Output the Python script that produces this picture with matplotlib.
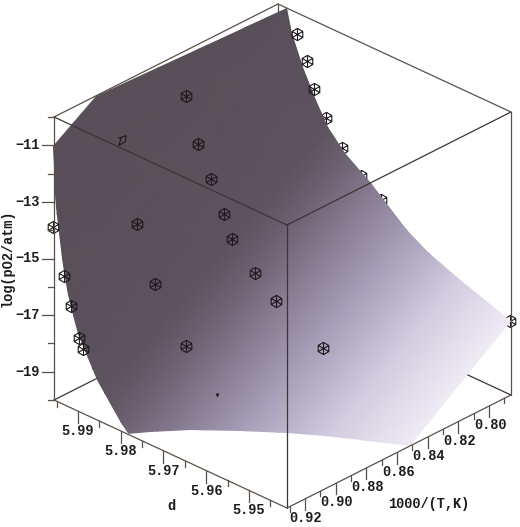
import numpy as np
import matplotlib
matplotlib.use("Agg")
import matplotlib.pyplot as plt
from matplotlib.colors import LinearSegmentedColormap
from matplotlib.patches import Polygon
from matplotlib.path import Path

# ---- axis ranges and ticks
d_range = [5.9411, 5.9956]
t_range = [0.7857, 0.9317]
z_range = [-20, -10]
d_major = [5.95, 5.96, 5.97, 5.98, 5.99]
d_minor = [5.945, 5.955, 5.965, 5.975, 5.985, 5.995]
t_major = [0.80, 0.82, 0.84, 0.86, 0.88, 0.90, 0.92]
t_minor = [0.79, 0.81, 0.83, 0.85, 0.87, 0.89, 0.91, 0.93]
z_major = [-19, -17, -15, -13, -11]
z_minor = [-20, -18, -16, -14, -12, -10]

# ---- surface table
surf_d = [5.9411, 5.9535, 5.9605, 5.9654, 5.9739, 5.9799, 5.9839, 5.9867,
          5.9898, 5.9923, 5.9935, 5.9950, 5.9958]
surf_t = [0.9317, 0.8830, 0.8343, 0.7857]
surf_z = [[-23.24, -21.29, -19.35, -17.40],
          [-22.40, -20.51, -18.62, -16.73],
          [-21.80, -19.97, -18.14, -16.31],
          [-21.30, -19.49, -17.68, -15.87],
          [-20.55, -18.63, -16.72, -14.80],
          [-19.70, -17.86, -16.01, -14.17],
          [-18.95, -17.14, -15.34, -13.53],
          [-18.30, -16.46, -14.61, -12.77],
          [-17.30, -15.47, -13.65, -11.82],
          [-16.05, -14.30, -12.55, -10.80],
          [-15.10, -13.40, -11.70, -10.00],
          [-13.40, -11.60, -9.90, -8.60],
          [-11.05, -8.90, -7.90, -7.00]]

# ---- outline where the surface leaves the box
edge_d = [5.9785, 5.9763, 5.9718, 5.9654, 5.9592, 5.9539, 5.9486, 5.9411, 5.9411,
          5.9535, 5.9605, 5.9654, 5.9739, 5.9799, 5.9839, 5.9867, 5.9898, 5.9923, 5.9935,
          5.9956, 5.9958, 5.9954, 5.9937, 5.9926, 5.9907, 5.9855]
edge_t = [0.9317, 0.9230, 0.9094, 0.8945, 0.8812, 0.8714, 0.8631, 0.8515, 0.7857,
          0.7857, 0.7857, 0.7857, 0.7857, 0.7857, 0.7857, 0.7857, 0.7857, 0.7857, 0.7857,
          0.9043, 0.9317, 0.9317, 0.9317, 0.9317, 0.9317, 0.9317]
edge_z = [-20, -20, -20, -20, -20, -20, -20, -20, -17.4,
          -16.73, -16.31, -15.87, -14.8, -14.17, -13.53, -12.77, -11.82, -10.8, -10,
          -10, -11.05, -12.9, -14.9, -15.89, -17.07, -18.6]

# ---- measured points
front_d = [5.9940, 5.9912, 5.9882, 5.9852, 5.9833, 5.9779, 5.9730, 5.9620,
           5.9876, 5.9834, 5.9761,
           5.9958, 5.9933, 5.9916, 5.9898, 5.9888,
           5.9912, 5.9888, 5.9872]
front_t = [0.85, 0.85, 0.85, 0.85, 0.85, 0.85, 0.85, 0.85,
           0.90, 0.90, 0.90,
           0.9317, 0.9317, 0.9317, 0.9317, 0.9317,
           0.7857, 0.7857, 0.7857]
front_z = [-11.38, -12.88, -13.92, -14.93, -15.68, -16.51, -17.15, -18.04,
           -14.08, -15.91, -17.59,
           -13.9, -15.46, -16.4, -17.4, -17.72,
           -10.75, -11.54, -12.41]
back_d = [5.9844, 5.9806, 5.9762, 5.9715, 5.9668, 5.9617, 5.9542, 5.9413]
back_t = [0.7857, 0.7857, 0.7857, 0.7857, 0.7857, 0.7857, 0.7857, 0.7857]
back_z = [-13.24, -14.04, -14.72, -15.24, -16.08, -16.53, -17.0, -17.4]
stub_d = [5.9911]
stub_t = [0.90]
stub_z = [-11.36]
dot_d = [5.9688]
dot_t = [0.90]
dot_z = [-18.82]

# ---- shading along d
shade_d = [5.9411, 5.9550, 5.9650, 5.9750, 5.9830, 5.9956]
shade_c = ["#f0ecf5", "#cfc7dd", "#a79eb8", "#7f7488", "#5e5460", "#594f58"]

LINE = "#5a5048"
FRONT = "#3c3436"
INK = "#1e1a1e"
MONO = "Liberation Mono"

W, H = 520, 527
fig = plt.figure(figsize=(W / 100, H / 100), dpi=100, facecolor="white")
ax = fig.add_axes([0, 0, 1, 1])
ax.set_xlim(0, W)
ax.set_ylim(H, 0)
ax.axis("off")


def project(d, t, z):
    a = (np.asarray(d, float) - d_range[0]) / (d_range[1] - d_range[0])
    b = (t_range[1] - np.asarray(t, float)) / (t_range[1] - t_range[0])
    c = (np.asarray(z, float) - z_range[0]) / (z_range[1] - z_range[0])
    return 287 - 233 * a + 224 * b, 508 - 108 * a - 113 * b - 283 * c


def edge(p, q, z=3, color=LINE, lw=0.9):
    x0, y0 = project(*p)
    x1, y1 = project(*q)
    ax.plot([x0, x1], [y0, y1], color=color, lw=lw, zorder=z, solid_capstyle="round")


dl, dh = d_range
tl, th = t_range
zl, zh = z_range
# back edges
edge((dh, th, zh), (dh, tl, zh), 1)
edge((dh, tl, zh), (dl, tl, zh), 1)
edge((dh, tl, zh), (dh, tl, zl), 1)
edge((dh, th, zl), (dh, tl, zl), 1, FRONT)
edge((dl, tl, zl), (dh, tl, zl), 1, FRONT)

# surface
D, T = np.meshgrid(surf_d, surf_t, indexing="ij")
X, Y = project(D, T, np.array(surf_z))
stops = [(v - shade_d[0]) / (shade_d[-1] - shade_d[0]) for v in shade_d]
cmap = LinearSegmentedColormap.from_list("shade", list(zip(stops, shade_c)))
mesh = ax.pcolormesh(X, Y, D, shading="gouraud", cmap=cmap,
                     vmin=shade_d[0], vmax=shade_d[-1], zorder=2)
ex, ey = project(edge_d, edge_t, edge_z)
clip = Polygon(np.column_stack([ex, ey]), closed=True, transform=ax.transData)
mesh.set_clip_path(clip)

# front edges
edge((dh, th, zh), (dl, th, zh), 5, FRONT)
edge((dl, th, zh), (dl, tl, zh), 5, FRONT)
edge((dl, th, zh), (dl, th, zl), 5, FRONT)
edge((dh, th, zh), (dh, th, zl), 5)
edge((dl, tl, zh), (dl, tl, zl), 5)
edge((dh, th, zl), (dl, th, zl), 5)
edge((dl, th, zl), (dl, tl, zl), 5)

# cube-like marker
ang = np.deg2rad(np.arange(30, 390, 60))
hx, hy = np.cos(ang), np.sin(ang)
verts, codes = [], []
for i in range(6):
    verts += [(hx[i], hy[i])]
    codes += [Path.MOVETO if i == 0 else Path.LINETO]
verts += [(hx[0], hy[0])]
codes += [Path.LINETO]
for i in range(6):
    verts += [(0, 0), (hx[i], hy[i])]
    codes += [Path.MOVETO, Path.LINETO]
cube = Path(verts, codes)
stub = Path([(-0.7, -1), (-0.3, 0.6), (0.7, 1), (0.6, -0.2), (-0.7, -1), (-0.9, 0.5), (-0.3, 0.6)],
            [Path.MOVETO] + [Path.LINETO] * 4 + [Path.MOVETO, Path.LINETO])

x, y = project(back_d, back_t, back_z)
ax.plot(x, y, ls="none", marker=cube, ms=8.8, mfc="none", mec=INK, mew=0.8, zorder=1.5)
x, y = project(front_d, front_t, front_z)
ax.plot(x, y, ls="none", marker=cube, ms=8.8, mfc="none", mec=INK, mew=0.8, zorder=4)
x, y = project(stub_d, stub_t, stub_z)
ax.plot(x, y, ls="none", marker=stub, ms=7, mfc="none", mec=INK, mew=0.8, zorder=4)
x, y = project(dot_d, dot_t, dot_z)
ax.plot(x, y, ls="none", marker="v", ms=2.4, mfc=INK, mec=INK, mew=0.3, zorder=4)

# ticks and tick labels
txt = dict(family=MONO, weight="bold", fontsize=9.8, color=INK)
for v, n in [(d_major, 12), (d_minor, 6)]:
    x, y = project(v, [th] * len(v), [zl] * len(v))
    for xi, yi in zip(x, y):
        ax.plot([xi, xi], [yi, yi + n], color=LINE, lw=0.9, zorder=5)
x, y = project(d_major, [th] * 5, [zl] * 5)
for xi, yi, v in zip(x, y, d_major):
    ax.text(xi, yi + 20, f"{v:.2f}", ha="center", va="center", **txt)

for v, n in [(t_major, 11), (t_minor, 5)]:
    x, y = project([dl] * len(v), v, [zl] * len(v))
    for xi, yi in zip(x, y):
        ax.plot([xi, xi], [yi, yi + n], color=LINE, lw=0.9, zorder=5)
x, y = project([dl] * 7, t_major, [zl] * 7)
for xi, yi, v in zip(x, y, t_major):
    ax.text(xi + 1, yi + 19, f"{v:.2f}", ha="center", va="center", **txt)

for v, n in [(z_major, 12), (z_minor, 6)]:
    x, y = project([dh] * len(v), [th] * len(v), v)
    for xi, yi in zip(x, y):
        ax.plot([xi - n, xi], [yi, yi], color=LINE, lw=0.9, zorder=5)
x, y = project([dh] * 5, [th] * 5, z_major)
for xi, yi, v in zip(x, y, z_major):
    ax.text(xi - 14, yi, f"\u2212{abs(v)}", ha="right", va="center", **txt)

# axis titles
ax.text(171, 506, "d", ha="center", va="center", **txt)
ax.text(429, 504, "1000/(T,K)", ha="center", va="center", **txt)
ax.text(8, 258, "log(pO2/atm)", ha="center", va="center", rotation=90, **txt)

fig.savefig("out.png", dpi=100)
